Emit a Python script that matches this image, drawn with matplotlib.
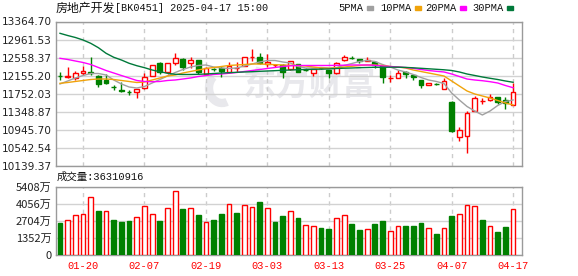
import matplotlib
matplotlib.use("Agg")
import matplotlib.pyplot as plt
from matplotlib.patches import Rectangle, Arc

# ── Data ────────────────────────────────────────────────────────────
dates = ["01-15", "01-16", "01-17", "01-20", "01-21", "01-22", "01-23", "01-24", "01-27",
         "02-05", "02-06", "02-07", "02-10", "02-11", "02-12", "02-13", "02-14", "02-17",
         "02-18", "02-19", "02-20", "02-21", "02-24", "02-25", "02-26", "02-27", "02-28",
         "03-03", "03-04", "03-05", "03-06", "03-07", "03-10", "03-11", "03-12", "03-13",
         "03-14", "03-17", "03-18", "03-19", "03-20", "03-21", "03-24", "03-25", "03-26",
         "03-27", "03-28", "03-31", "04-01", "04-02", "04-03", "04-07", "04-08", "04-09",
         "04-10", "04-11", "04-14", "04-15", "04-16", "04-17"]

opens = [12150, 12125, 12097, 12222, 12244, 12155, 12059, 11900, 11836, 11788,
         11798, 11887, 12155, 12445, 12244, 12431, 12528, 12431, 12505, 12186,
         12300, 12333, 12244, 12325, 12378, 12570, 12566, 12409, 12390, 12394,
         12297, 12409, 12280, 12208, 12335, 12282, 12208, 12498, 12555, 12528,
         12490, 12467, 12378, 12100, 12110, 12244, 12170, 12059, 11947, 11980,
         11865, 11575, 10793, 10816, 11374, 11585, 11612, 11686, 11612, 11501]
highs = [12230, 12356, 12267, 12378, 12566, 12170, 12193, 11947, 12021, 11836,
         11860, 12208, 12400, 12467, 12440, 12655, 12543, 12579, 12510, 12340,
         12330, 12378, 12454, 12467, 12580, 12751, 12655, 12632, 12420, 12410,
         12490, 12415, 12320, 12300, 12350, 12282, 12460, 12617, 12600, 12535,
         12566, 12480, 12400, 12170, 12280, 12250, 12180, 12059, 12000, 11990,
         12111, 11580, 11003, 11367, 11702, 11650, 11746, 11690, 11673, 11985]
lows = [12060, 12097, 12059, 12170, 12170, 11910, 11975, 11836, 11800, 11724,
        11664, 11851, 12150, 12186, 12186, 12394, 12282, 12333, 12186, 12170,
        12250, 12133, 12208, 12244, 12370, 12483, 12409, 12356, 12360, 12110,
        12290, 12240, 12250, 12155, 12300, 12097, 12200, 12490, 12520, 12430,
        12480, 12333, 11985, 12007, 12100, 12097, 12059, 11873, 11940, 11940,
        11860, 10905, 10704, 10436, 11370, 11523, 11600, 11523, 11411, 11490]
closes = [12140, 12155, 12209, 12260, 12208, 11963, 11985, 11896, 11806, 11784,
          11857, 12119, 12394, 12231, 12431, 12557, 12356, 12505, 12244, 12320,
          12295, 12260, 12378, 12333, 12566, 12579, 12431, 12454, 12394, 12244,
          12483, 12244, 12275, 12297, 12320, 12208, 12431, 12579, 12550, 12490,
          12510, 12394, 12133, 12105, 12222, 12193, 12132, 11947, 11999, 11975,
          12037, 10927, 10943, 11329, 11650, 11590, 11686, 11575, 11552, 11790]

ma5 = [11970, 12037, 12104, 12159, 12204, 12204, 12171, 12059, 11970, 11903,
       11880, 11914, 11992, 12070, 12148, 12226, 12293, 12349, 12383, 12394,
       12349, 12327, 12316, 12327, 12371, 12416, 12461, 12494, 12494, 12461,
       12438, 12360, 12327, 12327, 12338, 12327, 12338, 12383, 12427, 12472,
       12494, 12472, 12405, 12349, 12282, 12238, 12182, 12115, 12059, 12026,
       11981, 11769, 11613, 11468, 11367, 11278, 11367, 11490, 11579, 11613]
ma10 = [11985, 12003, 12026, 12048, 12070, 12081, 12081, 12070, 12048, 12026,
        12003, 12014, 12059, 12104, 12148, 12171, 12215, 12249, 12282, 12316,
        12338, 12360, 12383, 12394, 12405, 12416, 12416, 12409, 12401, 12394,
        12387, 12383, 12371, 12349, 12327, 12320, 12327, 12349, 12365, 12383,
        12394, 12394, 12383, 12360, 12349, 12327, 12282, 12249, 12215, 12182,
        12148, 12037, 11925, 11814, 11747, 11702, 11657, 11601, 11546, 11501]
ma20 = [12543, 12517, 12483, 12450, 12405, 12338, 12271, 12215, 12159, 12104,
        12048, 12026, 12021, 12026, 12048, 12059, 12081, 12104, 12137, 12159,
        12182, 12193, 12209, 12226, 12249, 12271, 12293, 12316, 12338, 12360,
        12376, 12383, 12383, 12383, 12383, 12383, 12387, 12389, 12394, 12394,
        12394, 12387, 12371, 12360, 12349, 12338, 12320, 12293, 12271, 12253,
        12238, 12193, 12137, 12081, 12059, 12043, 12021, 11992, 11936, 11887]
ma30 = [13101, 13052, 13008, 12952, 12878, 12780, 12655, 12566, 12505, 12432,
        12378, 12334, 12282, 12244, 12209, 12186, 12182, 12182, 12186, 12193,
        12204, 12215, 12222, 12231, 12238, 12244, 12253, 12260, 12267, 12276,
        12282, 12289, 12293, 12298, 12302, 12305, 12316, 12322, 12327, 12334,
        12338, 12343, 12343, 12345, 12345, 12340, 12331, 12320, 12309, 12298,
        12287, 12271, 12238, 12193, 12160, 12126, 12097, 12070, 12037, 12008]

# volume in 万 shares; 1 = up day (red), 0 = down day (green)
volume = [2558, 2772, 3168, 3247, 4570, 3485, 3461, 2772, 2637, 2693,
          2986, 3881, 3247, 2693, 3699, 5069, 3643, 3699, 3168, 2590,
          2772, 3247, 4039, 3326, 3960, 3778, 4198, 3699, 2614, 3089,
          3461, 2930, 2376, 2273, 2138, 2059, 2907, 3168, 2455, 1980,
          2035, 2455, 2693, 1901, 2297, 2297, 2297, 2558, 2115, 1690,
          2115, 3115, 3247, 3960, 3881, 2772, 2297, 1848, 2218, 3631]
vol_up = [0, 1, 1, 1, 1, 0, 1, 0, 0, 0,
          1, 1, 1, 0, 1, 1, 0, 1, 0, 1,
          0, 0, 1, 0, 1, 1, 0, 1, 0, 0,
          1, 0, 1, 1, 0, 0, 1, 1, 0, 0,
          1, 0, 0, 1, 1, 0, 0, 0, 1, 0,
          1, 0, 1, 1, 1, 0, 1, 0, 0, 1]

price_ticks = ["10139.37", "10542.54", "10945.70", "11348.87", "11752.03",
               "12155.20", "12558.37", "12961.53", "13364.70"]
vol_ticks = [0, 1352, 2704, 4056, 5408]
last_volume = "36310916"

# ── Style ───────────────────────────────────────────────────────────
RED = "#ff0000"
GREEN = "#008000"
MA_COLORS = {"5PMA": "#a0a0a0", "10PMA": "#f0a30a", "20PMA": "#ff00ff", "30PMA": "#00793a"}
FRAME = "#9a9a9a"
WATERMARK = "#e8e8ec"
CJK = ["Noto Sans CJK SC", "DejaVu Sans"]
MONO = ["Liberation Mono", "Noto Sans CJK SC"]

W, H = 578, 276
fig = plt.figure(figsize=(W / 100, H / 100), dpi=100)


def box(l, t, r, b):
    return [l / W, 1 - b / H, (r - l) / W, (b - t) / H]


ax = fig.add_axes(box(56, 21.5, 522, 166))
axv = fig.add_axes(box(56, 186.7, 522, 255))

n = len(closes)
idx = list(range(n))
tick_idx = idx[3::8]
bw = 0.62

# ── Candles ─────────────────────────────────────────────────────────
for i in idx:
    o, h, l, c = opens[i], highs[i], lows[i], closes[i]
    if c >= o:
        ax.vlines(i, c, h, color=RED, lw=1, zorder=3)
        ax.vlines(i, l, o, color=RED, lw=1, zorder=3)
        ax.add_patch(Rectangle((i - bw / 2, o), bw, max(c - o, 3), facecolor="white",
                               edgecolor=RED, lw=1, zorder=4))
    else:
        ax.vlines(i, l, h, color=GREEN, lw=1, zorder=3)
        ax.add_patch(Rectangle((i - bw / 2, c), bw, max(o - c, 3), facecolor=GREEN,
                               edgecolor=GREEN, lw=1, zorder=4))

for (name, col), ma in zip(MA_COLORS.items(), [ma5, ma10, ma20, ma30]):
    ax.plot(idx, ma, color=col, lw=1, zorder=5)

ax.set_xlim(-0.52, 60.16)
ax.set_ylim(float(price_ticks[0]), float(price_ticks[-1]))
ax.set_yticks([float(s) for s in price_ticks])
ax.set_yticklabels(price_ticks)
ax.set_xticks(tick_idx)
ax.set_xticklabels([])
ax.grid(axis="y", color="#d2d2d2", lw=1, ls="-", zorder=0)
ax.grid(axis="x", color="#cccccc", lw=1, ls=(0, (3, 3)), zorder=0)
ax.tick_params(length=0, pad=3, labelsize=7.6, labelcolor="#222222")

# watermark: swoosh logo + brand name
ax.add_patch(Arc((222 / W, 1 - 88 / H), 26 / W, 30 / H, theta1=110, theta2=280,
                 transform=fig.transFigure, color=WATERMARK, lw=6, zorder=1))
ax.text(309 / W, 1 - 86 / H, "东方财富", transform=fig.transFigure, ha="center",
        va="center", fontsize=24, fontweight="bold", color=WATERMARK,
        family=CJK, zorder=1)

# ── Volume ──────────────────────────────────────────────────────────
for i in idx:
    if vol_up[i]:
        axv.add_patch(Rectangle((i - bw / 2, 0), bw, volume[i], facecolor="white",
                                edgecolor=RED, lw=1, zorder=3))
    else:
        axv.add_patch(Rectangle((i - bw / 2, 0), bw, volume[i], facecolor=GREEN,
                                edgecolor=GREEN, lw=1, zorder=3))

axv.set_xlim(-0.52, 60.16)
axv.set_ylim(0, vol_ticks[-1])
axv.set_yticks(vol_ticks)
axv.set_yticklabels([str(v) + "万" if v else "0" for v in vol_ticks], family=CJK)
axv.set_xticks(tick_idx)
axv.set_xticklabels([dates[i] for i in tick_idx], family=MONO, color=RED)
axv.grid(axis="y", color="#d2d2d2", lw=1, ls="-", zorder=0)
axv.grid(axis="x", color="#cccccc", lw=1, ls=(0, (3, 3)), zorder=0)
axv.tick_params(axis="y", length=0, pad=3, labelsize=8, labelcolor="#222222")
axv.tick_params(axis="x", length=0, pad=4, labelsize=7.5)

for a in (ax, axv):
    for s in a.spines.values():
        s.set_color(FRAME)
        s.set_linewidth(1)

# ── Header texts ────────────────────────────────────────────────────
fig.text(56 / W, 1 - 8 / H, "房地产开发", family=CJK, fontsize=8.6, va="center",
         color="#111111")
fig.text(115 / W, 1 - 8 / H, "[BK0451] 2025-04-17 15:00", family=MONO, fontsize=7.3,
         va="center", color="#111111")

legend_x = [338, 380, 425, 472]
for (name, col), x in zip(MA_COLORS.items(), legend_x):
    fig.text(x / W, 1 - 8 / H, name, family=MONO, fontsize=7.5, va="center",
             color="#111111")
    fig.patches.append(Rectangle(((x + 6.2 * len(name) + 4) / W, 1 - 10 / H), 6 / W, 4 / H,
                                 transform=fig.transFigure, color=col))

fig.text(57 / W, 1 - 177 / H, "成交量:" + last_volume, family=MONO, fontsize=7.5,
         va="center", color="#111111")

fig.savefig("out.png", dpi=100)
